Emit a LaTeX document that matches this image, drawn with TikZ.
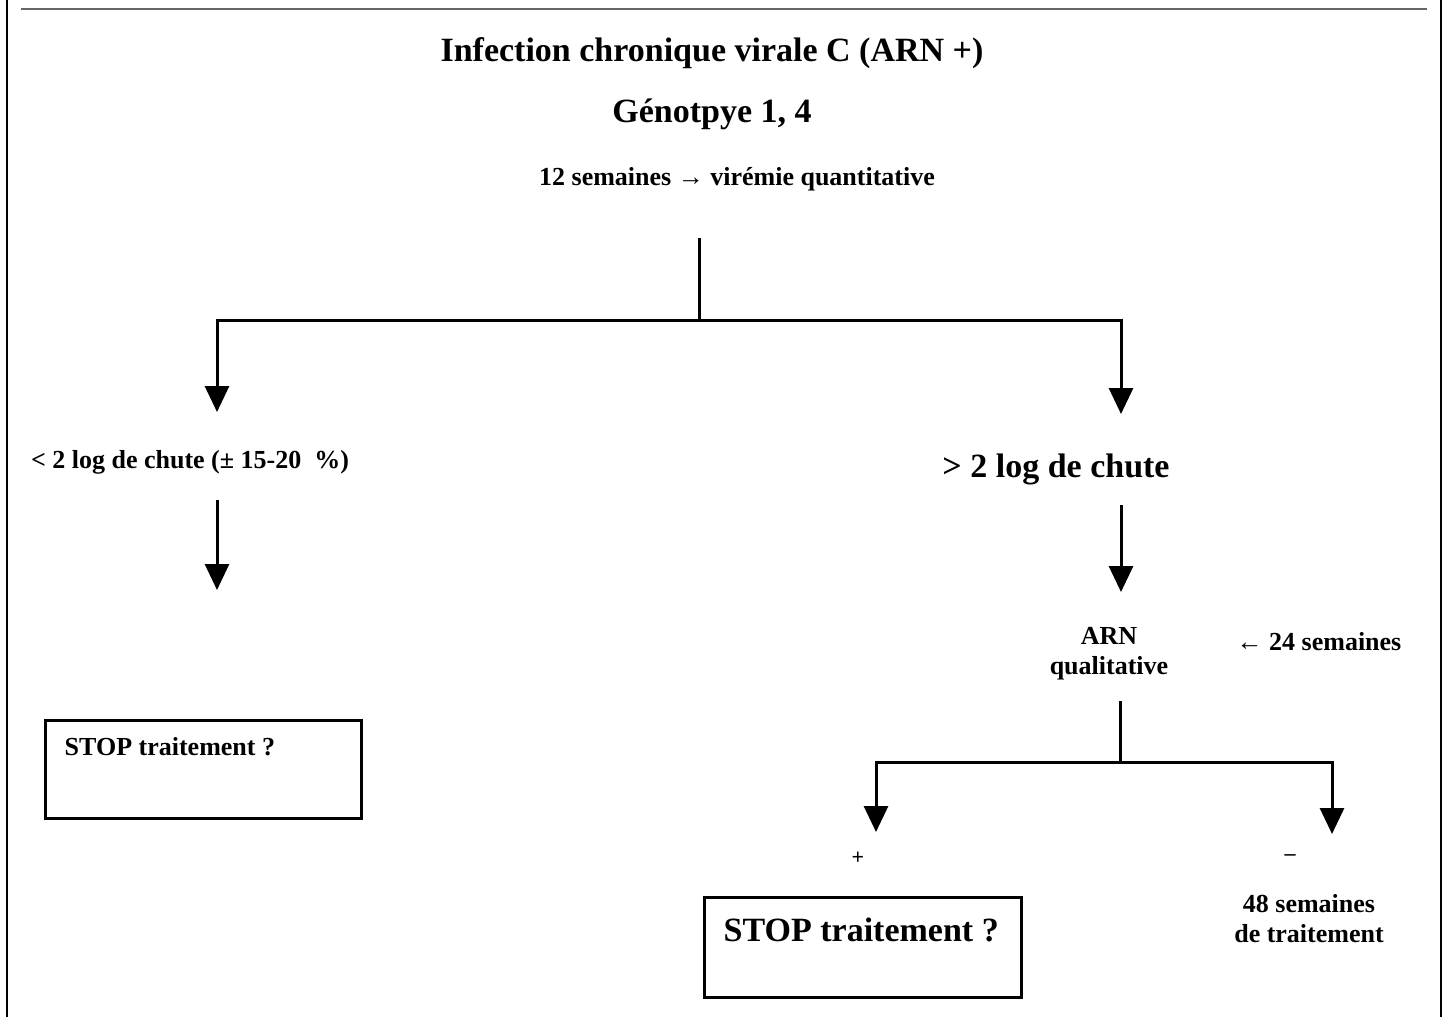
\documentclass[tikz,border=0pt]{standalone}
\usepackage{fontspec}
\setmainfont{Liberation Serif}
\usetikzlibrary{arrows.meta,positioning}

\begin{document}
\begin{tikzpicture}[x=1pt,y=-1pt,
  big/.style={inner sep=0pt,font=\fontsize{34}{37}\selectfont\bfseries},
  small/.style={inner sep=0pt,font=\fontsize{26}{30}\selectfont\bfseries,align=center},
  tiny/.style={inner sep=0pt,font=\fontsize{22}{24}\selectfont\bfseries},
  stopbox/.style={draw,line width=3pt,inner sep=0pt},
  link/.style={line width=3pt},
  down/.style={line width=3pt,-{Triangle[width=24pt,length=26pt]}}]
\useasboundingbox (0,0) rectangle (1448,1017);
% frame
\draw[line width=2pt] (7,0) -- (7,1017);
\draw[line width=2pt] (1441,0) -- (1441,1017);
\draw[gray!80!black,line width=1.5pt] (21,9) -- (1427,9);
% titles
\node[big] (infection) at (712,53) {Infection chronique virale C (ARN +)};
\node[big] (genotype) at (712,114) {Génotpye 1, 4};
\node[small] (quanti) at (737,179) {12 semaines \textrightarrow\ virémie quantitative};
% first split
\coordinate (stem) at (699,238);
\coordinate (split) at (699,320);
\coordinate (splitL) at (217,320);
\coordinate (splitR) at (1121,320);
\coordinate (tipL) at (217,412);
\coordinate (tipR) at (1121,414);
\draw[link] (stem) -- (split);
\draw[link] (splitL) -- (splitR);
\draw[down] ([yshift=1.5pt]splitL) -- (tipL);
\draw[down] ([yshift=1.5pt]splitR) -- (tipR);
\node[small] (lowdrop) at (190,462) {< 2 log de chute (± 15-20~ \%)};
\node[big] (highdrop) at (1056,469) {> 2 log de chute};
% left branch
\coordinate (tipL2) at (217,590);
\draw[down] (217,500) -- (tipL2);
\node[stopbox,minimum width=316pt,minimum height=98pt] (stopL) at (203,769) {};
\node[small,anchor=north west] (stopLtext) at ([xshift=21pt,yshift=-19pt]stopL.north west) {STOP traitement ?};
% right branch
\node[small] (arn) at (1109,654) {ARN\\qualitative};
\node[small] (week24) at (1319,642) {\textleftarrow\ 24 semaines};
\coordinate (tipR2) at (1121,592);
\draw[down] (1121,505) -- (tipR2);
\coordinate (split2) at (1120,762);
\coordinate (split2L) at (876,762);
\coordinate (split2R) at (1332,762);
\draw[link] ([yshift=-20pt]arn.south -| split2) -- (split2);
\draw[link] (split2L) -- (split2R);
\draw[down] ([yshift=1.5pt]split2L) -- (876,832);
\draw[down] ([yshift=1.5pt]split2R) -- (1332,834);
\node[tiny] (plus) at (858,858) {+};
\node[tiny] (minus) at (1290,858) {–};
\node[stopbox,minimum width=317pt,minimum height=100pt] (stopR) at (862.5,947) {};
\node[big,anchor=north west] (stopRtext) at ([xshift=21pt,yshift=-22pt]stopR.north west) {STOP traitement ?};
\node[small] (week48) at (1309,919) {48 semaines\\de traitement};
\end{tikzpicture}
\end{document}
